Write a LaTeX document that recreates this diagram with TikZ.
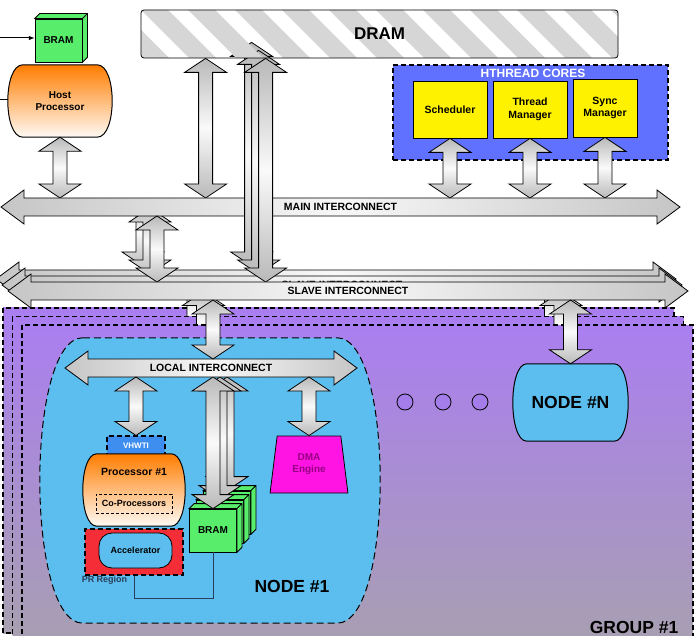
\documentclass[tikz,border=0pt]{standalone}
\usepackage{fontspec}
\setmainfont{Liberation Sans}
\usetikzlibrary{calc,shapes.geometric}
\tikzset{>=latex}

\definecolor{nodeblue}{RGB}{92,190,238}
\definecolor{coreblue}{RGB}{96,112,255}
\definecolor{vhwtiblue}{RGB}{62,142,240}
\definecolor{bramgreen}{RGB}{88,238,108}
\definecolor{dmapink}{RGB}{255,20,228}
\definecolor{dmatext}{RGB}{150,0,130}
\definecolor{prred}{RGB}{245,45,55}
\definecolor{procorange}{RGB}{255,125,0}
\definecolor{grouptop}{RGB}{170,126,240}
\definecolor{groupbot}{RGB}{168,160,176}
\definecolor{dotpurple}{RGB}{165,125,235}
\definecolor{wirecol}{RGB}{40,62,90}

\pgfdeclarelayer{bg}
\pgfdeclarelayer{fg}
\pgfsetlayers{bg,main,fg}

\tikzset{
  lbl/.style = {align=center, inner sep=0pt, font=\bfseries\fontsize{10}{12}\selectfont},
  box/.style = {draw, line width=0.8pt},
  vbus/.style = {draw, line width=0.8pt, top color=gray!55, bottom color=gray!55, middle color=gray!4},
  hbus/.style = {draw, line width=0.8pt, left color=gray!45, right color=gray!45, middle color=gray!6},
  buslbl/.style = {inner sep=0pt, font=\bfseries\fontsize{10.5}{12}\selectfont},
  dashbox/.style = {draw, line width=1.1pt, dash pattern=on 5pt off 3pt},
  dram/.style = {box, rounded corners=3pt, minimum width=477pt, minimum height=48pt,
    font=\bfseries\fontsize{17}{20}\selectfont,
    path picture={\foreach \k in {-1,...,10}
      \fill[gray!32, sharp corners] ([xshift=\k*47pt]path picture bounding box.north west)
        -- ++(27pt,0pt) -- ++(48pt,-48pt) -- ++(-27pt,0pt) -- cycle;}},
  cores/.style = {dashbox, fill=coreblue, minimum width=275pt, minimum height=95pt},
  coreslbl/.style = {lbl, text=white, font=\bfseries\fontsize{12}{14}\selectfont},
  core/.style = {box, lbl, fill=yellow, minimum width=74pt, minimum height=57pt,
    font=\bfseries\fontsize{10.5}{12.5}\selectfont},
  bram/.style = {box, lbl, fill=bramgreen, minimum width=47pt, minimum height=43pt},
  bramside/.style = {box, fill=bramgreen},
  shell/.style = {inner sep=0pt},
  cpu/.style = {draw, line width=1pt, top color=procorange, bottom color=procorange!4},
  nbody/.style = {draw, line width=1pt, fill=nodeblue},
  nodebody/.style = {nbody, dash pattern=on 7pt off 4pt},
  bigtxt/.style = {lbl, font=\bfseries\fontsize{17.5}{20}\selectfont},
  vhwti/.style = {dashbox, lbl, fill=vhwtiblue, text=white, minimum width=58pt, minimum height=19pt,
    font=\bfseries\fontsize{8}{10}\selectfont},
  copro/.style = {box, lbl, dash pattern=on 3pt off 2pt, minimum width=76pt, minimum height=19pt,
    font=\bfseries\fontsize{9}{10}\selectfont},
  prbox/.style = {dashbox, fill=prred, minimum width=98pt, minimum height=46pt},
  accel/.style = {box, lbl, fill=nodeblue, rounded corners=13pt, minimum width=73pt, minimum height=35pt,
    font=\bfseries\fontsize{9}{10}\selectfont},
  prlbl/.style = {lbl, text=wirecol, font=\bfseries\fontsize{9}{10}\selectfont},
  wire/.style = {draw=wirecol, line width=1pt},
  dma/.style = {box, lbl, trapezium, trapezium angle=80, trapezium stretches=true,
    minimum width=78pt, minimum height=57pt, fill=dmapink, text=dmatext},
  dot/.style = {circle, box, fill=dotpurple, minimum size=16pt, inner sep=0pt},
  group/.style = {dashbox, line width=1.3pt, top color=grouptop, bottom color=groupbot}
}

% vertical double block arrow: [offset]{top}{bottom}
\newcommand{\vbus}[3][(0,0)]{%
  \path[vbus] let \p1=#2, \p2=#3, \p3=#1 in
    (\x1+\x3,\y1+\y3) -- ++(21pt,-14pt) -- ++(-14pt,0pt)
    -- (\x1+\x3+7pt,\y2+\y3+14pt) -- ++(14pt,0pt) -- (\x1+\x3,\y2+\y3)
    -- ++(-21pt,14pt) -- ++(14pt,0pt)
    -- (\x1+\x3-7pt,\y1+\y3-14pt) -- ++(-14pt,0pt) -- cycle;}

% horizontal bus: [offset]{left tip}{right tip}{name}{label}
\newcommand{\hbus}[5][(0,0)]{%
  \path[hbus] let \p1=#2, \p2=#3, \p3=#1 in
    (\x1+\x3,\y1+\y3) -- ++(23pt,17pt) -- ++(0pt,-8pt)
    -- (\x2+\x3-23pt,\y1+\y3+9pt) -- ++(0pt,8pt) -- (\x2+\x3,\y1+\y3)
    -- ++(-23pt,-17pt) -- ++(0pt,8pt)
    -- (\x1+\x3+23pt,\y1+\y3-9pt) -- ++(0pt,-8pt) -- cycle;
  \node[buslbl] (#4) at ($#2!0.5!#3+#1$) {#5};}

% bulging box round a shell node: {node}{inset}{style}
\newcommand{\barrel}[3]{%
  \path[#3] ([xshift=#2pt]#1.north west) -- ([xshift=-#2pt]#1.north east)
    .. controls ([xshift=#2pt/3]#1.north east) and ([xshift=#2pt/3]#1.south east) .. ([xshift=-#2pt]#1.south east)
    -- ([xshift=#2pt]#1.south west)
    .. controls ([xshift=-#2pt/3]#1.south west) and ([xshift=-#2pt/3]#1.north west) .. ([xshift=#2pt]#1.north west)
    -- cycle;}

% block ram with its 3d faces
\newcommand{\bram}[2]{%
  \node[bram] (#1) at #2 {BRAM};
  \path[bramside] (#1.north west) -- ++(5pt,5pt) -- ([shift={(5pt,5pt)}]#1.north east)
    -- ([shift={(5pt,5pt)}]#1.south east) -- (#1.south east) -- (#1.north east) -- cycle
    (#1.north east) -- ++(5pt,5pt);}

\begin{document}
\begin{tikzpicture}[x=1pt,y=-1pt]
  \useasboundingbox (0,0) rectangle (696,636);

  % bus edges
  \coordinate (mainL) at (1,207);
  \coordinate (mainR) at (680,207);
  \coordinate (main n) at (0,198);
  \coordinate (main s) at (0,216);
  \coordinate (slaveL) at (8,291);
  \coordinate (slaveR) at (688,291);
  \coordinate (slave n) at (0,282);
  \coordinate (slave s) at (0,300);
  \coordinate (localL) at (65,368);
  \coordinate (localR) at (357,368);
  \coordinate (local n) at (0,359);
  \coordinate (local s) at (0,377);
  \coordinate (in1) at (0,38);
  \coordinate (in2) at (0,100);

  % DRAM covers the tops of the bus arrows
  \begin{pgfonlayer}{fg}
    \node[dram] (dram) at (379.5,34) {DRAM};
  \end{pgfonlayer}

  % hthread cores
  \node[cores] (cores) at (530.5,112.5) {};
  \node[coreslbl] (coreslbl) at (533,73) {HTHREAD CORES};
  \node[core] (sched) at (450,109.5) {Scheduler};
  \node[core] (thread) at (530,109.5) {Thread\\Manager};
  \node[core, minimum width=64pt, minimum height=58pt] (sync) at (605,108) {Sync\\Manager};
  \foreach \c in {sched,thread,sync} {\vbus{(\c.south)}{(main n)}}

  % host
  \bram{hbram}{(58.5,40.5)}
  \node[shell, minimum width=104pt, minimum height=72pt] (host) at (60,101) {};
  \barrel{host}{15}{cpu}
  \node[lbl] (hosttxt) at (host) {Host\\Processor};
  \draw[->, line width=1pt] (in1) -- (in1 -| hbram.west);
  \draw[line width=1pt] (in2) -- (in2 -| host.west);
  \vbus{(host.south)}{(main n)}

  % main and slave interconnects
  \vbus{([xshift=65pt]dram.south west)}{(main n)}
  \vbus[(-14,-16)]{([xshift=157pt]main s)}{(slave n)}
  \vbus[(-7,-8)]{([xshift=157pt]main s)}{(slave n)}
  \hbus{(mainL)}{(mainR)}{main}{MAIN INTERCONNECT}
  \vbus[(-14,-16)]{([xshift=125pt]dram.south west)}{(slave n)}
  \vbus[(-7,-8)]{([xshift=125pt]dram.south west)}{(slave n)}
  \hbus[(-12,-12)]{(slaveL)}{(slaveR)}{slave2}{}
  \hbus[(-6,-6)]{(slaveL)}{(slaveR)}{slave1}{SLAVE INTERCONNECT}
  \vbus{([xshift=157pt]main s)}{(slave n)}
  \vbus{([xshift=125pt]dram.south west)}{(slave n)}
  \hbus{(slaveL)}{(slaveR)}{slave}{SLAVE INTERCONNECT}

  % node #1
  \node[shell, minimum width=340pt, minimum height=285pt] (node1) at (210,480.5) {};
  \barrel{node1}{43}{nodebody}
  \node[bigtxt] (node1txt) at (292,586) {NODE \#1};
  \bram{bram3}{(227,512.5)}
  \vbus{(local s -| bram3.north)}{(bram3.north)}
  \bram{bram2}{(220,521.5)}
  \vbus{(local s -| bram2.north)}{(bram2.north)}
  \bram{bram1}{(213,530.5)}
  \vbus{(local s -| bram1.north)}{(bram1.north)}
  \hbus{(localL)}{(localR)}{local}{LOCAL INTERCONNECT}
  \node[vhwti] (vhwti) at (136,445.5) {VHWTI};
  \vbus{(local s -| vhwti.north)}{(vhwti.north)}
  \node[shell, minimum width=102pt, minimum height=72pt] (proc) at (134,490) {};
  \barrel{proc}{14}{cpu}
  \node[lbl, font=\bfseries\fontsize{10.5}{12}\selectfont] (proctxt) at (134,472) {Processor \#1};
  \node[copro] (copro) at (134,503.5) {Co-Processors};
  \node[prbox] (pr) at (134,552) {};
  \node[accel] (accel) at (135.5,550.5) {Accelerator};
  \node[prlbl] (prlbl) at (104.5,580) {PR Region};
  \draw[wire] (pr.south) -- ++(0,23) -| (bram1.south);
  \node[dma] (dma) at (309,464.5) {DMA\\Engine};
  \vbus{(local s -| dma.north)}{(dma.north)}
  \vbus{(slave s -| bram1)}{(local n)}

  % node #N
  \node[shell, minimum width=115pt, minimum height=77pt] (nodeN) at (570.5,402.5) {};
  \barrel{nodeN}{14}{nbody}
  \node[bigtxt] (nodeNtxt) at (nodeN) {NODE \#N};
  \vbus{(slave s -| nodeN.north)}{(nodeN.north)}
  \foreach \i/\x in {1/405,2/443,3/480}
    \node[dot] (dot\i) at (\x,402) {};
  \node[bigtxt] (group) at (634,627) {GROUP \#1};

  % stacked groups behind
  \begin{pgfonlayer}{bg}
    \foreach \k in {2,1} {
      \path[group, shift={(-9.5*\k,-8.5*\k)}] (22,325) rectangle (693,650);
      \vbus[(-9.5*\k,-8.5*\k)]{(slave s -| bram1)}{(local n)}
      \vbus[(-9.5*\k,-8.5*\k)]{(slave s -| nodeN.north)}{(nodeN.north)}
    }
    \path[group] (22,325) rectangle (693,650);
  \end{pgfonlayer}
\end{tikzpicture}
\end{document}
